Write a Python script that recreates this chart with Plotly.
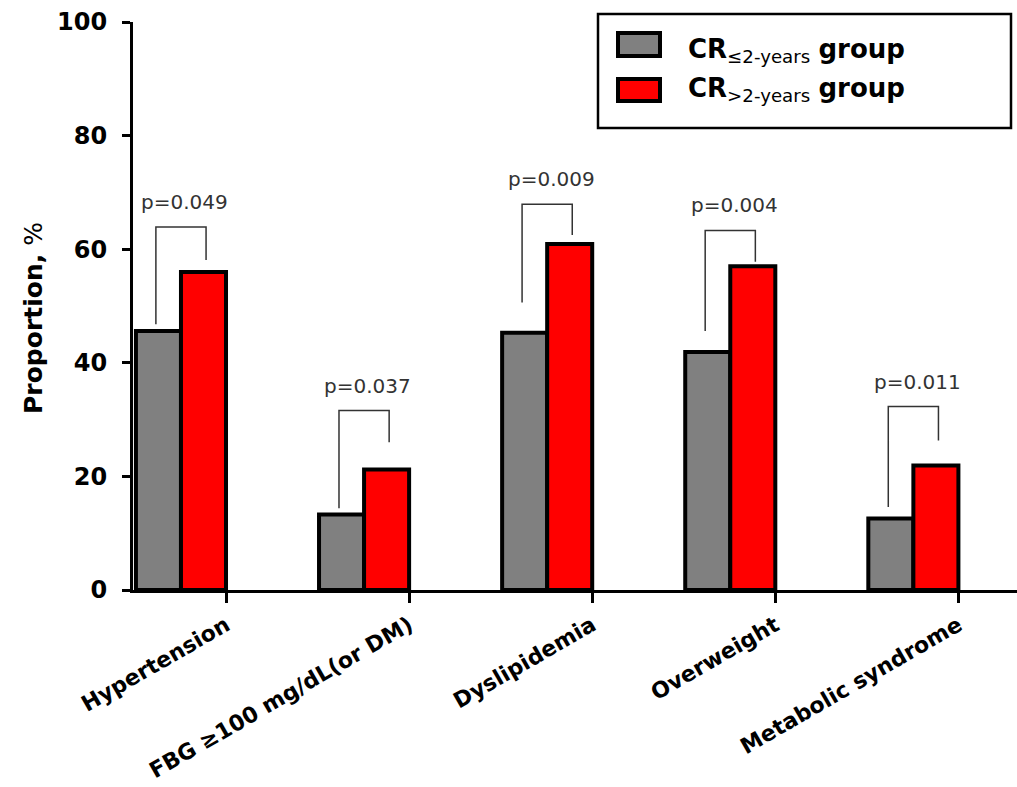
import plotly.graph_objects as go

# ---- data ----
categories = ["Hypertension", "FBG \u2265100 mg/dL(or DM)", "Dyslipidemia",
              "Overweight", "Metabolic syndrome"]
cr_le2 = [45.6, 13.3, 45.3, 41.9, 12.6]    # CR <=2-years group, %
cr_gt2 = [56.0, 21.2, 60.9, 57.0, 21.9]    # CR >2-years group, %
p_values = ["p=0.049", "p=0.037", "p=0.009", "p=0.004", "p=0.011"]
y_ticks = [0, 20, 40, 60, 80, 100]

# ---- page geometry (pixels) ----
FIG_W, FIG_H = 1017, 787
L, R, T, B = 133, 1017, 22, 590
PW, PH = R - L, B - T


def px_x(p):
    return (p - L) / PW


def px_y(p):
    return (B - p) / PH


# bar placement relative to each category tick (in category units)
BAR_W = 0.246
GRAY_OFF = -2 * BAR_W
RED_OFF = -BAR_W

# significance brackets: heights in % units
bracket_top = [63.9, 31.6, 67.9, 63.3, 32.3]
bracket_left_end = [46.8, 14.4, 50.6, 45.6, 14.6]
bracket_right_end = [58.1, 26.0, 62.5, 57.8, 26.3]
BR_LEFT, BR_RIGHT = -0.383, -0.109

xs = list(range(len(categories)))

fig = go.Figure()
fig.add_trace(go.Bar(
    x=xs, y=cr_le2, width=BAR_W, offset=GRAY_OFF,
    marker=dict(color="#808080", line=dict(color="black", width=4)),
    showlegend=False,
))
fig.add_trace(go.Bar(
    x=xs, y=cr_gt2, width=BAR_W, offset=RED_OFF,
    marker=dict(color="#ff0000", line=dict(color="black", width=4)),
    showlegend=False,
))

shapes = []
annotations = []
for i in xs:
    xl, xr = i + BR_LEFT, i + BR_RIGHT
    shapes.append(dict(
        type="path", xref="x", yref="y",
        path=f"M {xl} {bracket_left_end[i]} L {xl} {bracket_top[i]} "
             f"L {xr} {bracket_top[i]} L {xr} {bracket_right_end[i]}",
        line=dict(color="#333333", width=1.5),
    ))
    annotations.append(dict(
        x=i - 0.225, y=bracket_top[i], xref="x", yref="y",
        text=p_values[i], showarrow=False, xanchor="center", yanchor="bottom",
        yshift=11, font=dict(family="DejaVu Sans", size=20, color="#333333"),
    ))

# legend box
shapes.append(dict(type="rect", xref="paper", yref="paper",
                   x0=px_x(598), x1=px_x(1011), y0=px_y(128), y1=px_y(14),
                   line=dict(color="black", width=2.5), fillcolor="white"))
shapes.append(dict(type="rect", xref="paper", yref="paper",
                   x0=px_x(618), x1=px_x(660), y0=px_y(56), y1=px_y(33),
                   line=dict(color="black", width=4), fillcolor="#808080"))
shapes.append(dict(type="rect", xref="paper", yref="paper",
                   x0=px_x(618), x1=px_x(660), y0=px_y(101), y1=px_y(79),
                   line=dict(color="black", width=4), fillcolor="#ff0000"))
legend_font = dict(family="DejaVu Sans", size=26, color="black")
annotations.append(dict(
    x=px_x(686), y=px_y(51), xref="paper", yref="paper", showarrow=False,
    xanchor="left", yanchor="middle",
    text="<b>CR</b><sub>\u22642-years</sub> <b>group</b>", font=legend_font))
annotations.append(dict(
    x=px_x(686), y=px_y(89), xref="paper", yref="paper", showarrow=False,
    xanchor="left", yanchor="middle",
    text="<b>CR</b><sub>&gt;2-years</sub> <b>group</b>", font=legend_font))

# y-axis title
annotations.append(dict(
    x=px_x(33), y=px_y(318), xref="paper", yref="paper", showarrow=False,
    xanchor="center", yanchor="middle", textangle=-90,
    text="<b>Proportion,</b> %",
    font=dict(family="DejaVu Sans", size=25, color="black")))

fig.update_layout(
    width=FIG_W, height=FIG_H,
    margin=dict(l=L, r=FIG_W - R, t=T, b=FIG_H - B, pad=0, autoexpand=False),
    paper_bgcolor="white", plot_bgcolor="white",
    barmode="overlay",
    shapes=shapes, annotations=annotations,
    showlegend=False,
    xaxis=dict(
        range=[-0.508, 4.32], tickmode="array", tickvals=xs, ticktext=categories,
        tickangle=-30, ticks="outside", ticklen=10, tickwidth=2.5, tickcolor="black",
        showline=True, linecolor="black", linewidth=3, showgrid=False, zeroline=False,
        tickfont=dict(family="DejaVu Sans", size=22, color="black", weight="bold"),
        ticklabelstandoff=1, automargin=False,
    ),
    yaxis=dict(
        range=[0, 100], tickmode="array", tickvals=y_ticks,
        ticks="outside", ticklen=8, tickwidth=2.5, tickcolor="black",
        showline=True, linecolor="black", linewidth=3, showgrid=False, zeroline=False,
        tickfont=dict(family="DejaVu Sans", size=24, color="black", weight="bold"),
        ticklabelstandoff=10, automargin=False,
    ),
)

fig.write_html("out.html")
